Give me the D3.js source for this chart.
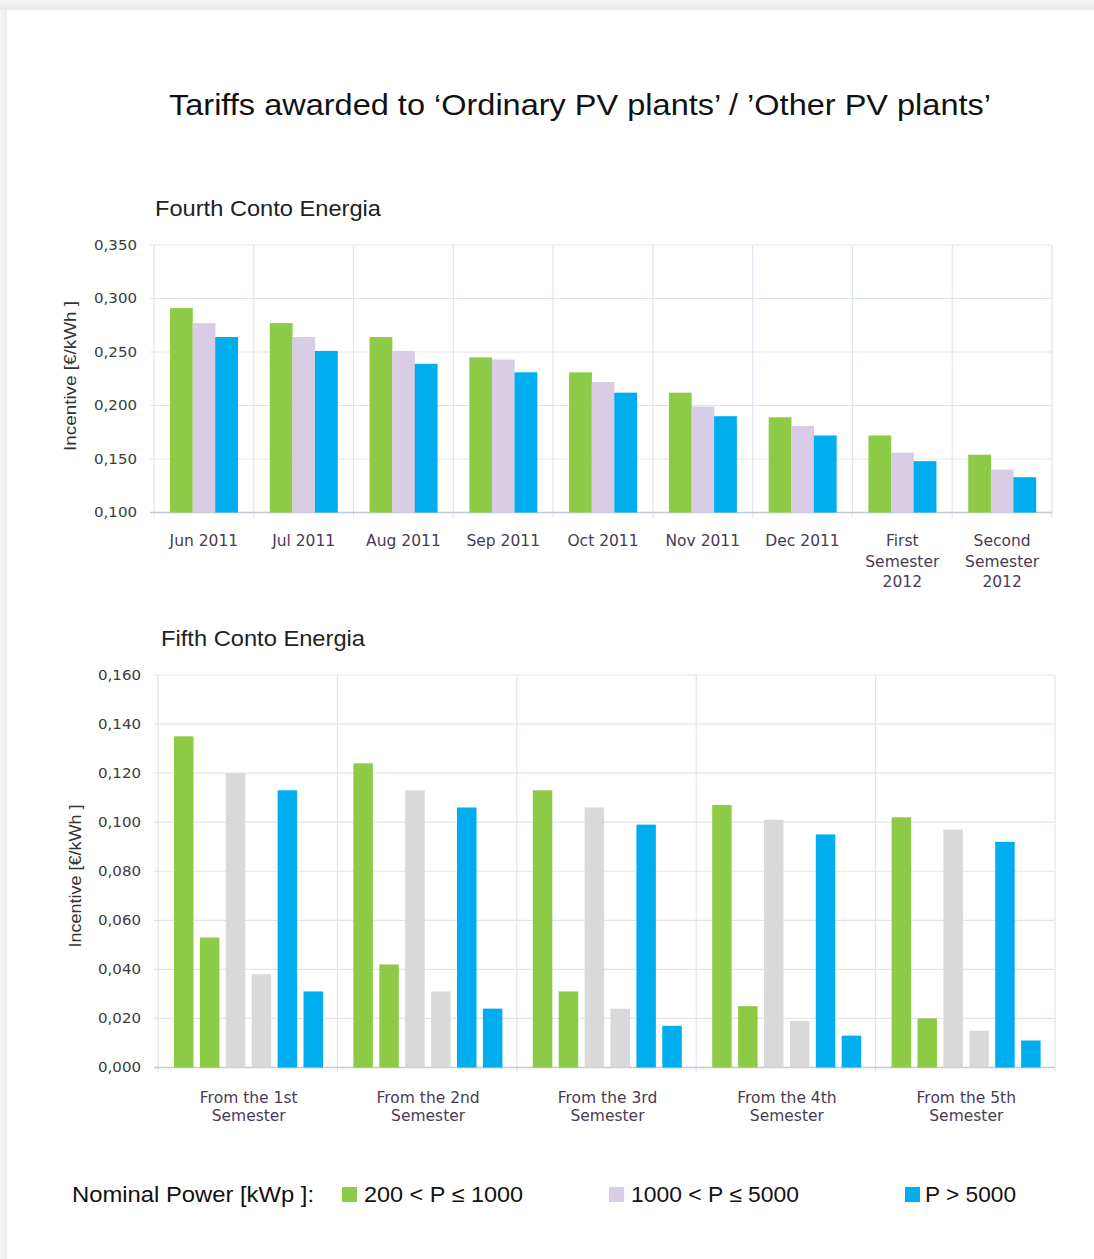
<!DOCTYPE html>
<html>
<head>
<meta charset="utf-8">
<script src="https://cdn.jsdelivr.net/npm/d3@7"></script>
<style>
  body { margin: 0; background: #ffffff; }
  svg { display: block; }
</style>
</head>
<body>
<svg id="chart" width="1094" height="1259"></svg>
<script>
// ---- Fourth Conto Energia (monthly / semester tariffs) ----
const fourthCategories = [
  ["Jun 2011"], ["Jul 2011"], ["Aug 2011"], ["Sep 2011"], ["Oct 2011"],
  ["Nov 2011"], ["Dec 2011"], ["First", "Semester", "2012"], ["Second", "Semester", "2012"]
];
const fourthSmall  = [0.291, 0.277, 0.264, 0.245, 0.231, 0.212, 0.189, 0.172, 0.154]; // 200 < P ≤ 1000
const fourthMedium = [0.277, 0.264, 0.251, 0.243, 0.222, 0.199, 0.181, 0.156, 0.140]; // 1000 < P ≤ 5000
const fourthLarge  = [0.264, 0.251, 0.239, 0.231, 0.212, 0.190, 0.172, 0.148, 0.133]; // P > 5000
const fourthTicks  = [0.100, 0.150, 0.200, 0.250, 0.300, 0.350];

// ---- Fifth Conto Energia (all-inclusive tariff and self-consumption premium) ----
const fifthCategories = [
  ["From the 1st", "Semester"], ["From the 2nd", "Semester"], ["From the 3rd", "Semester"],
  ["From the 4th", "Semester"], ["From the 5th", "Semester"]
];
const fifthSmallTariff   = [0.135, 0.124, 0.113, 0.107, 0.102];
const fifthSmallPremium  = [0.053, 0.042, 0.031, 0.025, 0.020];
const fifthMediumTariff  = [0.120, 0.113, 0.106, 0.101, 0.097];
const fifthMediumPremium = [0.038, 0.031, 0.024, 0.019, 0.015];
const fifthLargeTariff   = [0.113, 0.106, 0.099, 0.095, 0.092];
const fifthLargePremium  = [0.031, 0.024, 0.017, 0.013, 0.011];
const fifthTicks = [0.000, 0.020, 0.040, 0.060, 0.080, 0.100, 0.120, 0.140, 0.160];

// ---- Legend ----
const legendTitle = "Nominal Power [kWp ]:";
const legendLabels = ["200 < P ≤ 1000", "1000 < P ≤ 5000", "P > 5000"];

const GREEN = "#8dcb47", LILAC = "#d9cde6", BLUE = "#00aeef", GREY = "#d9d9d9";
const GRID = "#dfe5ef", AXIS = "#c3c8d2";
const TICK_COLOR = "#3c3c3c", CAT_COLOR = "#4a3b55";

const fmt = d3.formatLocale({ decimal: ",", thousands: ".", grouping: [3], currency: ["€", ""] }).format(".3f");

const svg = d3.select("#chart");

// page frame: light grey border strip with a white card
const defs = svg.append("defs");
const gTop = defs.append("linearGradient").attr("id", "topShade").attr("x1", 0).attr("y1", 0).attr("x2", 0).attr("y2", 1);
gTop.append("stop").attr("offset", "0%").attr("stop-color", "#f4f4f4");
gTop.append("stop").attr("offset", "100%").attr("stop-color", "#e9e9e9");
const gLeft = defs.append("linearGradient").attr("id", "leftShade").attr("x1", 0).attr("y1", 0).attr("x2", 1).attr("y2", 0);
gLeft.append("stop").attr("offset", "0%").attr("stop-color", "#f6f6f6");
gLeft.append("stop").attr("offset", "100%").attr("stop-color", "#ececec");
svg.append("rect").attr("width", 1094).attr("height", 1259).attr("fill", "#ffffff");
svg.append("rect").attr("x", 0).attr("y", 0).attr("width", 1094).attr("height", 10).attr("fill", "url(#topShade)");
svg.append("rect").attr("x", 0).attr("y", 10).attr("width", 7).attr("height", 1249).attr("fill", "url(#leftShade)");

// main title
svg.append("text")
  .attr("x", 580).attr("y", 115)
  .attr("text-anchor", "middle")
  .attr("font-family", "Liberation Sans, Arial, sans-serif")
  .attr("font-size", 30)
  .attr("fill", "#111111")
  .attr("textLength", 822).attr("lengthAdjust", "spacingAndGlyphs")
  .text("Tariffs awarded to ‘Ordinary PV plants’ / ’Other PV plants’");

function drawPanel(cfg) {
  const g = svg.append("g");
  const x = d3.scaleBand().domain(d3.range(cfg.categories.length)).range([cfg.x0, cfg.x1]).padding(0);
  const y = d3.scaleLinear().domain(cfg.domain).range([cfg.yBottom, cfg.yTop]);

  // horizontal gridlines
  g.append("g").selectAll("line").data(cfg.ticks).join("line")
    .attr("x1", cfg.x0 - 4).attr("x2", cfg.x1)
    .attr("y1", d => y(d)).attr("y2", d => y(d))
    .attr("stroke", GRID).attr("stroke-width", 1.2);

  // vertical gridlines at category boundaries
  const bounds = d3.range(cfg.categories.length + 1).map(i => cfg.x0 + i * x.bandwidth());
  g.append("g").selectAll("line").data(bounds).join("line")
    .attr("x1", d => d).attr("x2", d => d)
    .attr("y1", cfg.yTop).attr("y2", cfg.yBottom + 5)
    .attr("stroke", GRID).attr("stroke-width", 1.2);

  // category axis line
  g.append("line")
    .attr("x1", cfg.x0 - 4).attr("x2", cfg.x1)
    .attr("y1", cfg.yBottom).attr("y2", cfg.yBottom)
    .attr("stroke", AXIS).attr("stroke-width", 1.5);

  // value axis labels
  const yAxis = d3.axisLeft(y).tickValues(cfg.ticks).tickFormat(fmt).tickSize(0).tickPadding(0);
  const ya = g.append("g").attr("transform", `translate(${cfg.tickX},0)`).call(yAxis);
  ya.select(".domain").remove();
  ya.selectAll("text")
    .attr("font-family", "DejaVu Sans, Verdana, sans-serif")
    .attr("font-size", 14)
    .attr("fill", TICK_COLOR)
    .attr("textLength", 43).attr("lengthAdjust", "spacingAndGlyphs");

  // value axis title
  g.append("text")
    .attr("transform", `translate(${cfg.titleX},${cfg.titleY}) rotate(-90)`)
    .attr("text-anchor", "middle")
    .attr("font-family", "Liberation Sans, Arial, sans-serif")
    .attr("font-size", 16.5)
    .attr("fill", "#333333")
    .attr("textLength", cfg.titleLen).attr("lengthAdjust", "spacingAndGlyphs")
    .text("Incentive [€/kWh ]");

  // bars
  cfg.series.forEach((s, si) => {
    g.append("g").selectAll("rect").data(s.values).join("rect")
      .attr("x", (d, i) => x(i) + cfg.barOffset + si * cfg.barPitch)
      .attr("width", cfg.barWidth)
      .attr("y", d => y(d))
      .attr("height", d => y(cfg.domain[0]) - y(d))
      .attr("fill", s.color);
  });

  // category labels (multi-line)
  const lab = g.append("g").selectAll("text").data(cfg.categories).join("text")
    .attr("text-anchor", "middle")
    .attr("font-family", "DejaVu Sans, Verdana, sans-serif")
    .attr("font-size", cfg.catSize)
    .attr("fill", CAT_COLOR)
    .attr("x", (d, i) => x(i) + x.bandwidth() / 2 + cfg.labelShift)
    .attr("y", cfg.labelY);
  lab.selectAll("tspan").data(d => d).join("tspan")
    .attr("x", function () { return this.parentNode.getAttribute("x"); })
    .attr("dy", (d, i) => i === 0 ? 0 : cfg.lineH)
    .text(d => d);

  // panel subtitle
  svg.append("text")
    .attr("x", cfg.subX).attr("y", cfg.subY)
    .attr("font-family", "Liberation Sans, Arial, sans-serif")
    .attr("font-size", 22.5)
    .attr("fill", "#222222")
    .attr("textLength", cfg.subLen).attr("lengthAdjust", "spacingAndGlyphs")
    .text(cfg.subtitle);
}

drawPanel({
  subtitle: "Fourth Conto Energia", subX: 155, subY: 216, subLen: 226,
  categories: fourthCategories,
  domain: [0.1, 0.35], ticks: fourthTicks,
  x0: 154, x1: 1052, yTop: 245, yBottom: 512.5,
  tickX: 137, titleX: 76, titleY: 376, titleLen: 150,
  barOffset: 16, barPitch: 22.6, barWidth: 22.8,
  series: [
    { values: fourthSmall, color: GREEN },
    { values: fourthMedium, color: LILAC },
    { values: fourthLarge, color: BLUE }
  ],
  labelY: 546, lineH: 20.5, catSize: 15.5, labelShift: 0
});

drawPanel({
  subtitle: "Fifth Conto Energia", subX: 161, subY: 646, subLen: 204,
  categories: fifthCategories,
  domain: [0, 0.16], ticks: fifthTicks,
  x0: 158, x1: 1055, yTop: 675, yBottom: 1067.5,
  tickX: 141, titleX: 81, titleY: 876, titleLen: 143,
  barOffset: 16, barPitch: 25.9, barWidth: 19.5,
  series: [
    { values: fifthSmallTariff, color: GREEN },
    { values: fifthSmallPremium, color: GREEN },
    { values: fifthMediumTariff, color: GREY },
    { values: fifthMediumPremium, color: GREY },
    { values: fifthLargeTariff, color: BLUE },
    { values: fifthLargePremium, color: BLUE }
  ],
  labelY: 1103, lineH: 17.5, catSize: 15.5, labelShift: 1
});

// legend
const leg = svg.append("g").attr("font-family", "Liberation Sans, Arial, sans-serif").attr("font-size", 22).attr("fill", "#111111");
leg.append("text").attr("x", 72).attr("y", 1202).attr("textLength", 242).attr("lengthAdjust", "spacingAndGlyphs").text(legendTitle);
const legendX = [342, 609, 905];
const legendW = [159, 168, 91];
const legendColors = [GREEN, LILAC, BLUE];
legendLabels.forEach((t, i) => {
  leg.append("rect").attr("x", legendX[i]).attr("y", 1187).attr("width", 15).attr("height", 15).attr("fill", legendColors[i]);
  leg.append("text").attr("x", legendX[i] + (i === 2 ? 20 : 22)).attr("y", 1202)
    .attr("textLength", legendW[i]).attr("lengthAdjust", "spacingAndGlyphs").text(t);
});
</script>
</body>
</html>
